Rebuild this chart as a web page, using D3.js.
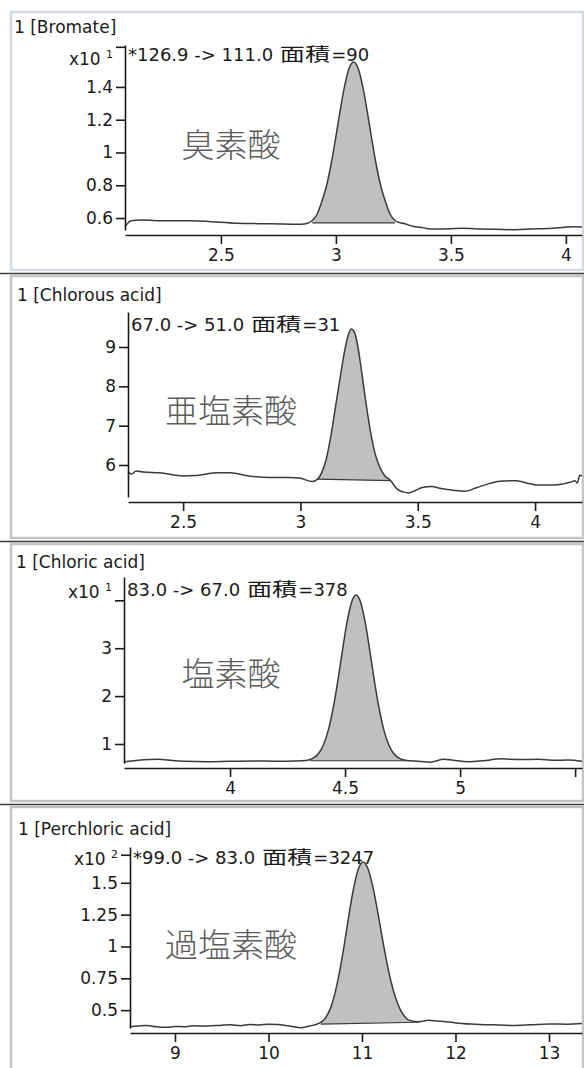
<!DOCTYPE html>
<html>
<head>
<meta charset="utf-8">
<script src="https://cdn.jsdelivr.net/npm/d3@7"></script>
<style>
  body { margin: 0; background: #fff; }
  svg text { font-family: "DejaVu Sans", "Open Sans", sans-serif; fill: #1a1a1a; }
  svg text.cjk { font-family: "Noto Sans CJK JP", sans-serif; fill: #5c5c5c; }
  svg text.cjk-small { font-family: "Noto Sans CJK JP", sans-serif; fill: #1a1a1a; }
</style>
</head>
<body>
<div id="chart"></div>
<script>
// Bromate (m/z 126.9 -> 111.0)
const bromateTime = [2.083, 2.109, 2.152, 2.26, 2.37, 2.457, 2.565, 2.717, 2.848, 2.877, 2.897, 2.917, 2.937, 2.957, 2.977, 2.997, 3.017, 3.037, 3.057, 3.077, 3.097, 3.117, 3.137, 3.157, 3.177, 3.197, 3.217, 3.237, 3.257, 3.277, 3.30, 3.33, 3.38, 3.41, 3.5, 3.55, 3.63, 3.70, 3.77, 3.85, 3.92, 3.97, 4.0, 4.04, 4.07];
const bromateSignal = [0.547, 0.584, 0.588, 0.583, 0.584, 0.578, 0.568, 0.565, 0.562, 0.568, 0.585, 0.62, 0.694, 0.785, 0.913, 1.071, 1.243, 1.400, 1.513, 1.553, 1.513, 1.400, 1.243, 1.071, 0.913, 0.785, 0.694, 0.62, 0.585, 0.572, 0.565, 0.552, 0.54, 0.533, 0.535, 0.537, 0.533, 0.531, 0.529, 0.533, 0.536, 0.54, 0.545, 0.547, 0.545];
const bromateXTicks = [2.5, 3, 3.5, 4];
const bromateYTicks = [0.6, 0.8, 1, 1.2, 1.4];

// Chlorous acid (67.0 -> 51.0)
const chlorousTime = [2.265, 2.28, 2.30, 2.33, 2.40, 2.50, 2.55, 2.65, 2.70, 2.78, 2.87, 2.95, 3.00, 3.05, 3.073, 3.09, 3.11, 3.13, 3.15, 3.17, 3.19, 3.205, 3.217, 3.23, 3.245, 3.26, 3.28, 3.30, 3.32, 3.34, 3.36, 3.385, 3.41, 3.44, 3.46, 3.49, 3.52, 3.56, 3.60, 3.65, 3.70, 3.75, 3.80, 3.86, 3.92, 3.98, 4.02, 4.08, 4.12, 4.15, 4.17, 4.18, 4.19, 4.20];
const chlorousSignal = [5.82, 5.77, 5.85, 5.82, 5.80, 5.72, 5.73, 5.80, 5.80, 5.72, 5.68, 5.68, 5.66, 5.58, 5.64, 5.80, 6.15, 6.75, 7.50, 8.25, 8.95, 9.33, 9.46, 9.38, 9.00, 8.40, 7.55, 6.80, 6.25, 5.92, 5.72, 5.60, 5.40, 5.31, 5.29, 5.35, 5.43, 5.45, 5.40, 5.36, 5.33, 5.42, 5.52, 5.59, 5.60, 5.52, 5.49, 5.49, 5.52, 5.56, 5.60, 5.54, 5.74, 5.72];
const chlorousXTicks = [2.5, 3, 3.5, 4];
const chlorousYTicks = [6, 7, 8, 9];

// Chloric acid (83.0 -> 67.0)
const chloricTime = [3.539, 3.56, 3.60, 3.65, 3.69, 3.75, 3.80, 3.90, 4.00, 4.10, 4.20, 4.28, 4.328, 4.348, 4.368, 4.388, 4.408, 4.428, 4.448, 4.468, 4.488, 4.508, 4.528, 4.548, 4.568, 4.588, 4.608, 4.628, 4.648, 4.668, 4.688, 4.708, 4.728, 4.748, 4.768, 4.80, 4.83, 4.87, 4.93, 4.97, 5.04, 5.10, 5.18, 5.26, 5.34, 5.40, 5.47, 5.53];
const chloricSignal = [0.62, 0.64, 0.66, 0.675, 0.68, 0.655, 0.64, 0.63, 0.64, 0.645, 0.64, 0.645, 0.654, 0.675, 0.724, 0.823, 1.005, 1.304, 1.741, 2.304, 2.935, 3.527, 3.955, 4.11, 3.955, 3.527, 2.935, 2.304, 1.741, 1.304, 1.005, 0.823, 0.724, 0.675, 0.654, 0.645, 0.635, 0.62, 0.68, 0.66, 0.63, 0.65, 0.69, 0.675, 0.68, 0.66, 0.665, 0.64];
const chloricXTicks = [4, 4.5, 5, 5.5];
const chloricYTicks = [1, 2, 3];

// Perchloric acid (99.0 -> 83.0)
const perchloricTime = [8.519, 8.6, 8.7, 8.8, 8.9, 9.0, 9.1, 9.2, 9.35, 9.5, 9.6, 9.7, 9.8, 9.9, 10.0, 10.1, 10.2, 10.34, 10.45, 10.51, 10.56, 10.61, 10.66, 10.71, 10.76, 10.81, 10.86, 10.91, 10.96, 11.01, 11.06, 11.11, 11.16, 11.21, 11.26, 11.31, 11.36, 11.41, 11.46, 11.51, 11.61, 11.71, 11.8, 11.9, 12.0, 12.2, 12.4, 12.6, 12.8, 13.0, 13.2, 13.353];
const perchloricSignal = [0.37, 0.375, 0.38, 0.37, 0.365, 0.372, 0.37, 0.378, 0.375, 0.382, 0.385, 0.378, 0.388, 0.384, 0.39, 0.387, 0.378, 0.362, 0.378, 0.388, 0.405, 0.44, 0.51, 0.63, 0.80, 1.010, 1.245, 1.455, 1.607, 1.664, 1.618, 1.489, 1.305, 1.096, 0.896, 0.725, 0.595, 0.504, 0.447, 0.420, 0.41, 0.42, 0.415, 0.41, 0.40, 0.39, 0.385, 0.38, 0.385, 0.392, 0.39, 0.395];
const perchloricXTicks = [9, 10, 11, 12, 13];
const perchloricYTicks = [0.5, 0.75, 1, 1.25, 1.5];

// integration baselines [t0, v0, t1, v1]
const bromateBase = [2.897, 0.571, 3.257, 0.571];
const chlorousBase = [3.073, 5.64, 3.385, 5.60];
const chloricBase = [4.348, 0.65, 4.768, 0.65];
const perchloricBase = [10.56, 0.39, 11.61, 0.405];

const panels = [
  { title: "1 [Bromate]", label: "臭素酸", ann: "*126.9 -> 111.0 面積=90",
    t: bromateTime, v: bromateSignal, base: bromateBase, xTicks: bromateXTicks, yTicks: bromateYTicks,
    xDomain: [2.083, 4.07], yDomain: [0.527, 1.656], exp: "1", expAt: 1.645, expDy: 18,
    box: [12, 270], left: 125, top: 45, bottom: 230, titleX: 14, titleY: 33, annY: 61, labelY: 143 },
  { title: "1 [Chlorous acid]", label: "亜塩素酸", ann: "67.0 -> 51.0 面積=31",
    t: chlorousTime, v: chlorousSignal, base: chlorousBase, xTicks: chlorousXTicks, yTicks: chlorousYTicks,
    xDomain: [2.265, 4.2], yDomain: [5.186, 9.89], exp: null,
    box: [276, 538], left: 128, top: 312, bottom: 497, titleX: 17, titleY: 301, annY: 331, labelY: 409 },
  { title: "1 [Chloric acid]", label: "塩素酸", ann: "83.0 -> 67.0 面積=378",
    t: chloricTime, v: chloricSignal, base: chloricBase, xTicks: chloricXTicks, yTicks: chloricYTicks,
    xDomain: [3.539, 5.53], yDomain: [0.603, 4.487], exp: "1", expAt: 4, expDy: -2, hideLastX: true,
    box: [544, 801], left: 124, top: 577, bottom: 763, titleX: 16, titleY: 568, annY: 596, labelY: 672 },
  { title: "1 [Perchloric acid]", label: "過塩素酸", ann: "*99.0 -> 83.0 面積=3247",
    t: perchloricTime, v: perchloricSignal, base: perchloricBase, xTicks: perchloricXTicks, yTicks: perchloricYTicks,
    xDomain: [8.519, 13.353], yDomain: [0.36, 1.781], exp: "2", expAt: 1.72, expDy: 10,
    box: [807, 1070], left: 130, top: 847, bottom: 1028, titleX: 18, titleY: 835, annY: 864, labelY: 943 }
];

const W = 584, H = 1068, right = 582;
const annSize = 18;

const svg = d3.select("#chart").append("svg")
  .attr("width", W).attr("height", H);

svg.append("rect").attr("width", W).attr("height", H).attr("fill", "#fff");

panels.forEach((p, i) => {
  const g = svg.append("g");

  // panel frame
  g.append("rect")
    .attr("x", 11).attr("y", p.box[0])
    .attr("width", 572).attr("height", p.box[1] - p.box[0])
    .attr("fill", "#fff")
    .attr("stroke", i === 0 ? "#d3d9e1" : "#c4c4c4")
    .attr("stroke-width", 2.5);
  if (i > 0) {
    g.append("line")
      .attr("x1", 0).attr("x2", W)
      .attr("y1", p.box[0] - 2.5).attr("y2", p.box[0] - 2.5)
      .attr("stroke", "#3c3c3c").attr("stroke-width", 1.5);
  }

  const x = d3.scaleLinear().domain(p.xDomain).range([p.left, right]);
  const y = d3.scaleLinear().domain(p.yDomain).range([p.bottom, p.top]);
  const xAxisY = p.bottom + 5;

  const pts = p.t.map((t, k) => [t, p.v[k]]);
  const [b0, bv0, b1, bv1] = p.base;
  const baseAt = t => bv0 + (bv1 - bv0) * (t - b0) / (b1 - b0);
  const peakPts = pts.filter(d => d[0] >= b0 - 1e-9 && d[0] <= b1 + 1e-9);

  // peak fill
  g.append("path")
    .datum(peakPts)
    .attr("fill", "#c0c0c0")
    .attr("d", d3.area()
      .x(d => x(d[0]))
      .y0(d => y(baseAt(d[0])))
      .y1(d => y(d[1]))
      .curve(d3.curveMonotoneX));

  // integration baseline
  g.append("line")
    .attr("x1", x(b0)).attr("x2", x(b1))
    .attr("y1", y(bv0)).attr("y2", y(bv1))
    .attr("stroke", "#3a3a3a").attr("stroke-width", 1.2);

  // signal trace
  g.append("path")
    .datum(pts)
    .attr("fill", "none")
    .attr("stroke", "#3a3a3a")
    .attr("stroke-width", 1.5)
    .attr("d", d3.line()
      .x(d => x(d[0]))
      .y(d => y(d[1]))
      .curve(d3.curveMonotoneX));

  // y axis
  const yTickVals = p.exp ? p.yTicks.concat([p.expAt]) : p.yTicks;
  const yAx = g.append("g")
    .attr("transform", `translate(${p.left},0)`)
    .call(d3.axisLeft(y).tickValues(yTickVals).tickSize(9).tickPadding(3).tickSizeOuter(0)
      .tickFormat(d => (p.exp && d === p.expAt) ? "" : String(d)));
  yAx.selectAll(".tick text").style("font-size", "17px");

  // exponent label
  if (p.exp) {
    const et = g.append("text")
      .attr("x", p.left - 12)
      .attr("y", y(p.expAt) + p.expDy)
      .attr("text-anchor", "end")
      .style("font-size", "17px");
    et.append("tspan").text("x10 ");
    et.append("tspan").text(p.exp).attr("dy", -7).style("font-size", "11px");
  }

  // x axis
  const xAx = g.append("g")
    .attr("transform", `translate(0,${xAxisY})`)
    .call(d3.axisBottom(x).tickValues(p.xTicks).tickSize(9).tickPadding(5).tickSizeOuter(0)
      .tickFormat((d, k) => (p.hideLastX && k === p.xTicks.length - 1) ? "" : String(d)));
  xAx.selectAll(".tick text").style("font-size", "17px");
  [yAx, xAx].forEach(a => {
    a.attr("font-family", null);
    a.select(".domain").attr("stroke", "#1a1a1a").attr("stroke-width", 1.6);
    a.selectAll(".tick line").attr("stroke", "#1a1a1a").attr("stroke-width", 1.6);
  });

  // title
  g.append("text")
    .attr("x", p.titleX).attr("y", p.titleY)
    .style("font-size", "17px")
    .text(p.title);

  // transition annotation: "prefix 面積=value", CJK part drawn wider as in the instrument font
  const [annPre, annPost] = p.ann.split("面積");
  let ax = p.left + 3;
  const preText = g.append("text")
    .attr("x", ax).attr("y", p.annY)
    .style("font-size", annSize + "px")
    .style("white-space", "pre")
    .text(annPre);
  ax += preText.node().getComputedTextLength() + 1;
  g.append("text")
    .attr("class", "cjk-small")
    .attr("transform", `translate(${ax},${p.annY}) scale(1.4,1)`)
    .style("font-size", annSize + "px")
    .text("面積");
  ax += annSize * 2 * 1.4 + 1;
  g.append("text")
    .attr("x", ax).attr("y", p.annY)
    .style("font-size", annSize + "px")
    .text(annPost);

  // compound label
  g.append("text")
    .attr("class", "cjk")
    .attr("x", 231).attr("y", p.labelY)
    .attr("text-anchor", "middle")
    .attr("dominant-baseline", "central")
    .style("font-size", "33px")
    .style("font-weight", 300)
    .text(p.label);
});
</script>
</body>
</html>
